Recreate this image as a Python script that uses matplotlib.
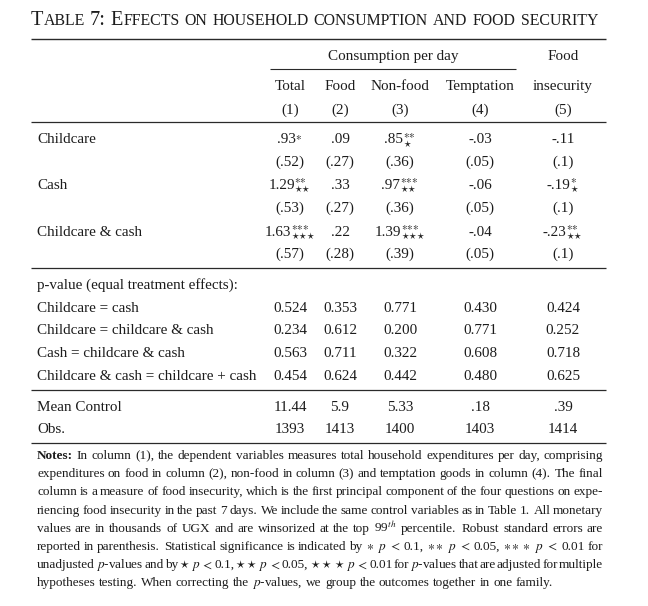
import matplotlib
matplotlib.use("Agg")
import matplotlib.pyplot as plt

plt.rcParams['font.family'] = ['Liberation Serif', 'DejaVu Serif']
plt.rcParams['mathtext.fontset'] = 'stix'

# ---- table content ----
title = "Table 7: Effects on household consumption and food security"
group_label = "Consumption per day"
col_top = ["", "", "", "", "Food"]
col_names = ["Total", "Food", "Non-food", "Temptation", "insecurity"]
col_nums = ["(1)", "(2)", "(3)", "(4)", "(5)"]

row_labels = ["Childcare", "Cash", "Childcare & cash"]
coefs = [[".93", ".09", ".85", "-.03", "-.11"],
         ["1.29", ".33", ".97", "-.06", "-.19"],
         ["1.63", ".22", "1.39", "-.04", "-.23"]]
# number of stars: unadjusted (superscript) and adjusted (subscript)
stars_unadj = [[1, 0, 2, 0, 0],
               [2, 0, 3, 0, 1],
               [3, 0, 3, 0, 2]]
stars_adj = [[0, 0, 1, 0, 0],
             [2, 0, 2, 0, 1],
             [3, 0, 3, 0, 2]]
ses = [["(.52)", "(.27)", "(.36)", "(.05)", "(.1)"],
       ["(.53)", "(.27)", "(.36)", "(.05)", "(.1)"],
       ["(.57)", "(.28)", "(.39)", "(.05)", "(.1)"]]

pv_header = "p-value (equal treatment effects):"
pv_labels = ["Childcare = cash", "Childcare = childcare & cash",
             "Cash = childcare & cash", "Childcare & cash = childcare + cash"]
pv_values = [["0.524", "0.353", "0.771", "0.430", "0.424"],
             ["0.234", "0.612", "0.200", "0.771", "0.252"],
             ["0.563", "0.711", "0.322", "0.608", "0.718"],
             ["0.454", "0.624", "0.442", "0.480", "0.625"]]

stat_labels = ["Mean Control", "Obs."]
stat_values = [["11.44", "5.9", "5.33", ".18", ".39"],
               ["1393", "1413", "1400", "1403", "1414"]]

notes_lines = [
    r"Notes: In column (1), the dependent variables measures total household expenditures per day, comprising",
    r"expenditures on food in column (2), non-food in column (3) and temptation goods in column (4). The final",
    r"column is a measure of food insecurity, which is the first principal component of the four questions on expe-",
    r"riencing food insecurity in the past 7 days. We include the same control variables as in Table 1. All monetary",
    r"values are in thousands of UGX and are winsorized at the top 99$^{th}$ percentile. Robust standard errors are",
    r"reported in parenthesis. Statistical significance is indicated by $\ast$ $p$ $<$ 0.1, $\ast\ast$ $p$ $<$ 0.05, $\ast\ast\ast$ $p$ $<$ 0.01 for",
    r"unadjusted $p$-values and by $\star$ $p$ $<$ 0.1, $\star\star$ $p$ $<$ 0.05, $\star\star\star$ $p$ $<$ 0.01 for $p$-values that are adjusted for multiple",
    r"hypotheses testing. When correcting the $p$-values, we group the outcomes together in one family.",
]

# ---- layout (pixel coordinates) ----
W, H = 648, 606
fig = plt.figure(figsize=(6.48, 6.06), dpi=100)
ax = fig.add_axes([0, 0, 1, 1])
ax.set_xlim(0, W)
ax.set_ylim(H, 0)
ax.axis('off')
renderer = fig.canvas.get_renderer()

ink = '#1c1c1c'
FS = 10.9
col_x = [290, 340, 400, 480, 563]
label_x = 37
left, right = 31, 606


def put(x, y, s, ha='center', size=FS, **kw):
    return ax.text(x, y, s, ha=ha, va='baseline', fontsize=size, color=ink, **kw)


def wid(t):
    return t.get_window_extent(renderer).width


def measure(s, size, **kw):
    t = put(0, 300, s, ha='left', size=size, **kw)
    w = wid(t)
    t.remove()
    return w


def space_width(size):
    return measure("x x", size) - measure("xx", size)


def rule(y, x0=left, x1=right, lw=0.9):
    ax.plot([x0, x1], [y, y], color='#2a2a2a', lw=lw, solid_capstyle='butt')


# title in small caps
def small_caps(x0, y, size):
    arts = []
    x = x0
    sp = space_width(size)
    for word in title.split(" "):
        runs = []
        for ch in word:
            small = ch.islower()
            if runs and runs[-1][1] == small:
                runs[-1][0] += ch
            else:
                runs.append([ch, small])
        for txt, small in runs:
            t = put(x, y, txt.upper(), ha='left', size=size * (0.78 if small else 1.0))
            arts.append(t)
            x += wid(t)
        x += sp
    return arts, x - sp - x0


arts, tw = small_caps(left, 25, 12.5)
for a in arts:
    a.remove()
small_caps(left, 25, 12.5 * 565 / tw)

# rules
rule(39.3, lw=1.0)
rule(69.3, 270, 516, lw=0.8)
rule(121.7)
rule(267.7)
rule(390)
rule(443)

# header
put((270 + 516) / 2, 60, group_label)
for j in range(5):
    if col_top[j]:
        put(col_x[j], 60, col_top[j])
    put(col_x[j], 90, col_names[j])
    put(col_x[j], 113.5, col_nums[j])

# coefficient rows
y_coef = [143.3, 189, 235.7]
for i, lab in enumerate(row_labels):
    y = y_coef[i]
    put(label_x, y, lab, ha='left')
    for j in range(5):
        num = put(0, y, coefs[i][j], ha='left')
        n1, n2 = stars_unadj[i][j], stars_adj[i][j]
        if n1 or n2:
            s = r"$\mathrm{}"
            if n1:
                s += "^{" + r"{\ast}" * n1 + "}"
            if n2:
                s += "_{" + r"{\star}" * n2 + "}"
            s += "$"
            st = put(0, y, s, ha='left')
            w1, w2 = wid(num), wid(st)
            x0 = col_x[j] - (w1 + w2) / 2
            num.set_x(x0)
            st.set_x(x0 + w1 - 0.5)
        else:
            num.set_x(col_x[j])
            num.set_ha('center')
        put(col_x[j], y + 22.5, ses[i][j])

# p-value block
put(label_x, 289, pv_header, ha='left')
y_pv = [311.7, 334.5, 357.3, 380]
for i, lab in enumerate(pv_labels):
    put(label_x, y_pv[i], lab, ha='left')
    for j in range(5):
        put(col_x[j], y_pv[i], pv_values[i][j])

# stats
y_st = [411, 433]
for i, lab in enumerate(stat_labels):
    put(label_x, y_st[i], lab, ha='left')
    for j in range(5):
        put(col_x[j], y_st[i], stat_values[i][j])

# notes, justified
nx0, nx1 = 37, 603
NFS = 9 * 512 / measure(notes_lines[-1].replace("$p$", "p"), 9)
nsp = space_width(NFS)
y_notes = [459, 477.2, 495.4, 513.6, 531.8, 550, 568.2, 586.4]
for k, line in enumerate(notes_lines):
    toks = line.split(" ")
    arts = []
    for m, tok in enumerate(toks):
        wt = 'bold' if (k == 0 and m == 0) else 'normal'
        arts.append(put(0, y_notes[k], tok, ha='left', size=NFS, fontweight=wt))
    ws = [wid(a) for a in arts]
    last = k == len(notes_lines) - 1
    weights = [1.5 if toks[m].endswith('.') and not last else 1.0 for m in range(len(toks) - 1)]
    if last:
        gaps = [nsp * w for w in weights]
    else:
        free = (nx1 - nx0) - sum(ws)
        unit = free / sum(weights)
        gaps = [unit * w for w in weights]
    x = nx0
    for m, a in enumerate(arts):
        a.set_x(x)
        x += ws[m] + (gaps[m] if m < len(gaps) else 0)

fig.savefig("out.png", dpi=100)
